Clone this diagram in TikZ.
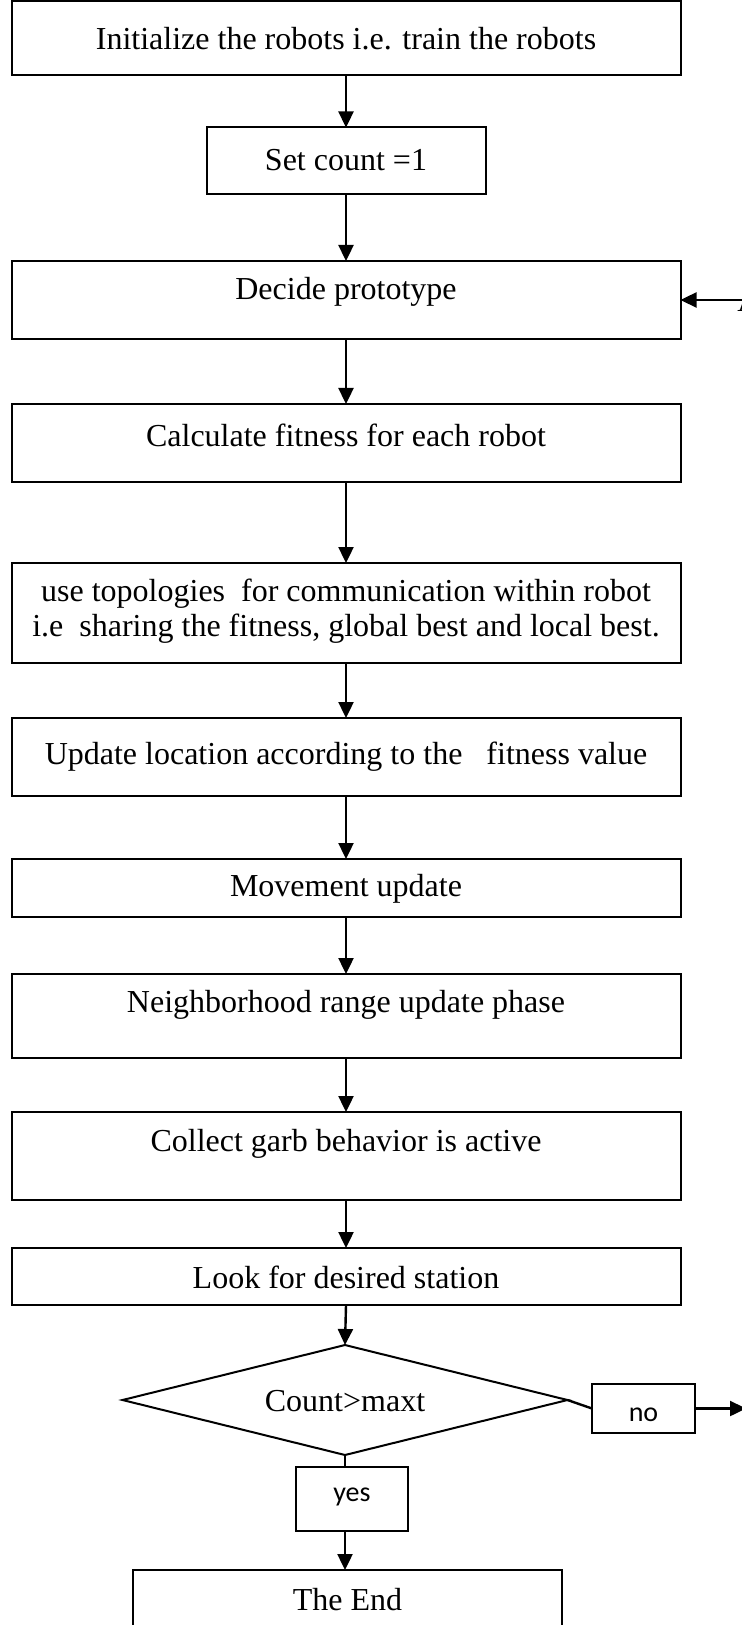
\documentclass[tikz,border=0pt]{standalone}
\usepackage{fontspec}
\setmainfont{Liberation Serif}
\newfontfamily\calibri{Carlito}
\usetikzlibrary{arrows.meta,shapes.geometric}
\begin{document}
\begin{tikzpicture}[x=0.5pt,y=-0.5pt,
  box/.style={draw,line width=1pt,inner sep=0pt,outer sep=0pt},
  wbox/.style={box,minimum width=334.5pt},
  lbl/.style={inner sep=0pt,font=\fontsize{16}{17.5}\selectfont,align=center},
  slbl/.style={inner sep=0pt,font=\calibri\fontsize{14}{16}\selectfont},
  arr/.style={line width=1.2pt,-{Triangle[length=8pt,width=7.5pt]}},
  ln/.style={line width=1.2pt}]
\useasboundingbox (0,0) rectangle (742,1625);
\clip (0,0) rectangle (742,1625);
% boxes
\node[wbox,minimum height=37pt] (b1) at (346,38) {};
\node[box,minimum width=139.5pt,minimum height=33.25pt] (b2) at (346,160.75) {};
\node[wbox,minimum height=39pt] (b3) at (346,300) {};
\node[wbox,minimum height=39pt] (b4) at (346,443) {};
\node[wbox,minimum height=50pt] (b5) at (346,613) {};
\node[wbox,minimum height=39pt] (b6) at (346,757) {};
\node[wbox,minimum height=29pt] (b7) at (346,888) {};
\node[wbox,minimum height=42pt] (b8) at (346,1016) {};
\node[wbox,minimum height=44pt] (b9) at (346,1156) {};
\node[wbox,minimum height=28.5pt] (b10) at (346,1276.5) {};
\node[box,shape=diamond,minimum width=222.5pt,minimum height=55pt] (d) at (345,1400) {};
\node[box,minimum width=51.5pt,minimum height=24.5pt] (no) at (643.5,1408.5) {};
\node[box,minimum width=56pt,minimum height=32pt] (yes) at (352,1499) {};
\node[box,minimum width=214.5pt,minimum height=40pt] (end) at (347.5,1610) {};
% labels
\node[lbl] (t1) at (346,39) {Initialize the robots i.e. train the robots};
\node[lbl] (t2) at (346,160) {Set count =1};
\node[lbl] (t3) at (346,292) {Decide prototype};
\node[lbl] (t4) at (346,435) {Calculate fitness for each robot};
\node[lbl] (t5) at (346,611) {use topologies\ \ for communication within robot\\i.e\ \ sharing the fitness, global best and local best.};
\node[lbl] (t6) at (346,757) {Update location according to the\ \ \ fitness value};
\node[lbl] (t7) at (346,889) {Movement update};
\node[lbl] (t8) at (346,1005) {Neighborhood range update phase};
\node[lbl] (t9) at (346,1144) {Collect garb behavior is active};
\node[lbl] (t10) at (346,1277) {Look for desired station};
\node[lbl] (td) at (345,1401) {Count>maxt};
\node[slbl] (tno) at (643.5,1415) {no};
\node[slbl] (tyes) at (352,1497) {yes};
\node[lbl] (tend) at (347.5,1600) {The End};
\node[lbl,anchor=base west] (tA) at (737,312) {A};
% connectors
\coordinate (ain) at (742,300);
\coordinate (nout) at (746,1408.5);
\draw[arr] (b1.south) -- (b2.north);
\draw[arr] (b2.south) -- (b3.north);
\draw[arr] (b3.south) -- (b4.north);
\draw[arr] (b4.south) -- (b5.north);
\draw[arr] (b5.south) -- (b6.north);
\draw[arr] (b6.south) -- (b7.north);
\draw[arr] (b7.south) -- (b8.north);
\draw[arr] (b8.south) -- (b9.north);
\draw[arr] (b9.south) -- (b10.north);
\draw[arr] (b10.south) -- (d.north);
\draw[arr] (ain) -- (b3.east);
\draw[ln] (d.east) -- (no.west);
\draw[arr] (no.east) -- (nout);
\draw[ln] (d.south) -- (d.south |- yes.north);
\draw[arr] (d.south |- yes.south) -- (d.south |- end.north);
\end{tikzpicture}
\end{document}
